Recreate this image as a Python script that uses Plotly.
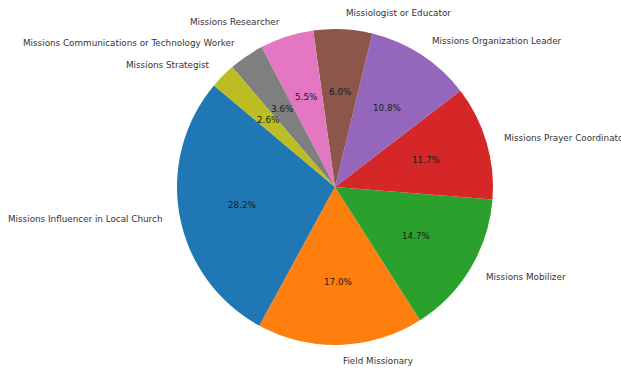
import math
import plotly.graph_objects as go

# Survey roles and their share of respondents (percent)
roles = [
    "Missions Influencer in Local Church",
    "Field Missionary",
    "Missions Mobilizer",
    "Missions Prayer Coordinator",
    "Missions Organization Leader",
    "Missiologist or Educator",
    "Missions Researcher",
    "Missions Communications or Technology Worker",
    "Missions Strategist",
]
shares = [28.2, 17.0, 14.7, 11.7, 10.8, 6.0, 5.5, 3.6, 2.6]
colors = ["#1f77b4", "#ff7f0e", "#2ca02c", "#d62728", "#9467bd",
          "#8c564b", "#e377c2", "#7f7f7f", "#bcbd22"]

W, H = 621, 373
CX, CY, R = 335, 187, 158          # pie centre / radius in pixels
START = 140                         # first wedge starts here (deg, CCW from 3 o'clock)
FONT = "DejaVu Sans"
FS = 8.8

total = sum(shares)
# In counterclockwise mode plotly's `rotation` marks where the first wedge ends
# (measured clockwise from 12 o'clock), so shift it by the first wedge's sweep.
first_sweep = shares[0] / total * 360
rotation = 90 - (START + first_sweep)

fig = go.Figure(go.Pie(
    labels=roles,
    values=shares,
    sort=False,
    direction="counterclockwise",
    rotation=rotation,
    marker=dict(colors=colors, line=dict(width=0)),
    textinfo="none",
    hoverinfo="label+value",
    showlegend=False,
    domain=dict(x=[(CX - R) / W, (CX + R) / W],
                y=[(H - CY - R) / H, (H - CY + R) / H]),
))

# Outer category labels and inner percentage labels, placed along each wedge's bisector
acc = 0.0
annotations = []
for name, v in zip(roles, shares):
    mid = math.radians(START + (acc + v / 2) / total * 360)
    acc += v
    c, s = math.cos(mid), math.sin(mid)
    lx, ly = CX + 1.1 * R * c, CY - 1.1 * R * s
    annotations.append(dict(
        x=lx / W, y=1 - ly / H, xref="paper", yref="paper",
        text=name, showarrow=False,
        xanchor="left" if c > 0 else "right", yanchor="middle",
        font=dict(family=FONT, size=FS, color="#333333"),
    ))
    px, py = CX + 0.6 * R * c, CY - 0.6 * R * s
    annotations.append(dict(
        x=px / W, y=1 - py / H, xref="paper", yref="paper",
        text=f"{v:.1f}%", showarrow=False,
        xanchor="center", yanchor="middle",
        font=dict(family=FONT, size=FS, color="#1a1a1a"),
    ))

fig.update_layout(
    width=W, height=H,
    margin=dict(l=0, r=0, t=0, b=0),
    paper_bgcolor="white",
    plot_bgcolor="white",
    annotations=annotations,
)

fig.write_html("out.html")
